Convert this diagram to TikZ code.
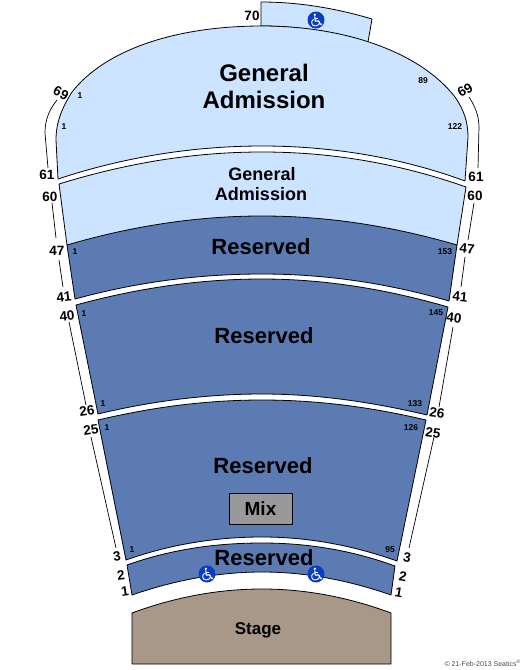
\documentclass[tikz,border=0pt]{standalone}
\usepackage{fontspec}
\setmainfont{Liberation Sans}
\definecolor{galight}{HTML}{CCE4FF}
\definecolor{resblue}{HTML}{5B7BB2}
\definecolor{stagebrown}{HTML}{A89888}
\definecolor{mixgray}{HTML}{999999}
\definecolor{wcblue}{HTML}{0A3CC8}
\tikzset{
 x=1pt,y=-1pt,
 seat/.style={draw=black,line width=0.8pt,line join=round},
 gasec/.style={seat,fill=galight},
 ressec/.style={seat,fill=resblue},
 sideline/.style={draw=black,line width=0.7pt},
 rowlbl/.style={font=\bfseries\fontsize{13.5}{13.5}\selectfont,inner sep=0pt},
 seatlbl/.style={font=\bfseries\fontsize{8.5}{8.5}\selectfont,inner sep=0pt},
 biglbl/.style={font=\bfseries\fontsize{24}{24}\selectfont,inner sep=0pt},
 midlbl/.style={font=\bfseries\fontsize{18}{18}\selectfont,inner sep=0pt},
 reslbl/.style={font=\bfseries\fontsize{22}{22}\selectfont,inner sep=0pt},
 wheelchair/.pic={
  \fill[wcblue] (0,0) circle (8.5);
  \fill[white] (-1.2,-5.2) circle (1.3);
  \draw[white,line width=1.2pt,line join=round] (-1.2,-3.5) -- (-0.8,1) -- (2.8,1) -- (4.4,4.6) -- (5.8,4);
  \draw[white,line width=0.9pt] (-1,-1.2) -- (2.4,-1.2);
  \draw[white,line width=0.9pt] (-2.4,-0.6) .. controls (-5.4,0.6) and (-5,5.9) .. (-0.8,5.9) .. controls (1.4,5.9) and (2.8,4.8) .. (3.2,3.4);
 }
}
\begin{document}
\begin{tikzpicture}
\useasboundingbox (0,0) rectangle (525,670);
% balcony 70
\path[gasec] (261,2) .. controls (298,2) and (335,8) .. (372,19) -- (368,42) .. controls (335,32) and (298,26) .. (261,26) -- cycle;
% GA upper
\path[gasec] (58,179) -- (56,140) .. controls (56,122) and (62,108) .. (72,92)
 .. controls (105,50) and (175,26) .. (262,26)
 .. controls (345,26) and (420,52) .. (455,97)
 .. controls (464,110) and (468,122) .. (468,137)
 -- (465,181) .. controls (400,157) and (330,146) .. (262,146) .. controls (194,146) and (124,157) .. (58,179) -- cycle;
% GA lower
\path[gasec] (59,184) .. controls (127,163) and (194,152) .. (262,152) .. controls (330,152) and (398,163) .. (466,187) -- (457,245) -- (67,245) -- cycle;
% reserved 1
\path[ressec] (67,245) .. controls (132,226) and (197,216) .. (262,216) .. controls (327,216) and (392,226) .. (457,245)
 -- (449,301) .. controls (387,283) and (325,274) .. (262,274) .. controls (199,274) and (137,282) .. (75,299) -- cycle;
% reserved 2
\path[ressec] (76,305) .. controls (138,288) and (200,279) .. (262,279) .. controls (324,279) and (386,289) .. (448,307)
 -- (427,415) .. controls (372,402) and (317,394) .. (262,394) .. controls (207,394) and (152,401) .. (98,414) -- cycle;
% reserved 3
\path[ressec] (98,420) .. controls (153,407) and (207,400) .. (262,400) .. controls (317,400) and (371,407) .. (426,420)
 -- (397,561) .. controls (352,545) and (307,537) .. (262,537) .. controls (217,537) and (171,544) .. (126,560) -- cycle;
% reserved 4
\path[ressec] (127,565) .. controls (172,549) and (217,543) .. (262,543) .. controls (307,543) and (351,550) .. (395,566)
 -- (391,595) .. controls (348,580) and (305,572) .. (262,572) .. controls (219,572) and (175,580) .. (132,595) -- cycle;
% stage
\path[seat,fill=stagebrown] (132,613) .. controls (175,597) and (219,589) .. (262,589) .. controls (305,589) and (348,597) .. (391,613) -- (391,664) -- (132,664) -- cycle;
% mix
\node[seat,fill=mixgray,minimum width=63pt,minimum height=31pt,inner sep=0pt,font=\bfseries\fontsize{19}{19}\selectfont] (mix) at (260.5,508.5) {Mix};
% side lines
\draw[sideline] (57,100) .. controls (49,110) and (45,120) .. (45,133) -- (48,168);
\draw[sideline] (52,203) -- (56,238);
\draw[sideline] (59,260) -- (63,287);
\draw[sideline] (69,322) -- (86,405);
\draw[sideline] (91,437) -- (116,548);
\draw[sideline] (469,97) .. controls (475,106) and (479,116) .. (479,127) -- (478,168);
\draw[sideline] (474,203) -- (468,240);
\draw[sideline] (465,257) -- (461,287);
\draw[sideline] (453,327) -- (439,407);
\draw[sideline] (434,437) -- (409,548);
% section text
\node[biglbl] (ga1a) at (264,73) {General};
\node[biglbl] (ga1b) at (264,100) {Admission};
\node[midlbl] (ga2a) at (262,174) {General};
\node[midlbl] (ga2b) at (261,194) {Admission};
\node[reslbl] (r1) at (261,247) {Reserved};
\node[reslbl] (r2) at (264,336) {Reserved};
\node[reslbl] (r3) at (263,466) {Reserved};
\node[reslbl] (r4) at (264,558) {Reserved};
\node[inner sep=0pt,font=\bfseries\fontsize{17}{17}\selectfont] (stage) at (258,630) {Stage};
% row labels left
\node[rowlbl] (l70) at (252,16) {70};
\node[rowlbl,rotate=-28] (l69) at (61,93) {69};
\node[rowlbl] (l61) at (47,175) {61};
\node[rowlbl] (l60) at (50,197) {60};
\node[rowlbl] (l47) at (57,251) {47};
\node[rowlbl,rotate=6] (l41) at (64,297) {41};
\node[rowlbl,rotate=6] (l40) at (67,316) {40};
\node[rowlbl,rotate=8] (l26) at (87,411) {26};
\node[rowlbl,rotate=8] (l25) at (91,430) {25};
\node[rowlbl,rotate=8] (l3) at (117,556) {3};
\node[rowlbl,rotate=8] (l2) at (121,575) {2};
\node[rowlbl,rotate=8] (l1) at (125,591) {1};
% row labels right
\node[rowlbl,rotate=30] (r69) at (465,90) {69};
\node[rowlbl] (r61) at (476,177) {61};
\node[rowlbl] (r60) at (475,196) {60};
\node[rowlbl,rotate=-6] (r47) at (467,249) {47};
\node[rowlbl,rotate=-6] (r41) at (460,297) {41};
\node[rowlbl,rotate=-8] (r40) at (454,318) {40};
\node[rowlbl,rotate=-8] (r26) at (437,413) {26};
\node[rowlbl,rotate=-8] (r25) at (433,433) {25};
\node[rowlbl,rotate=-10] (r3) at (407,558) {3};
\node[rowlbl,rotate=-10] (r2) at (403,577) {2};
\node[rowlbl,rotate=-10] (r1a) at (399,593) {1};
% seat labels
\node[seatlbl] (s1) at (80,96) {1};
\node[seatlbl] (s2) at (64,127) {1};
\node[seatlbl] (s3) at (423,81) {89};
\node[seatlbl] (s4) at (455,127) {122};
\node[seatlbl] (s5) at (75,252) {1};
\node[seatlbl] (s6) at (445,252) {153};
\node[seatlbl] (s7) at (84,314) {1};
\node[seatlbl] (s8) at (436,313) {145};
\node[seatlbl] (s9) at (103,404) {1};
\node[seatlbl] (s10) at (415,404) {133};
\node[seatlbl] (s11) at (107,428) {1};
\node[seatlbl] (s12) at (411,428) {126};
\node[seatlbl] (s13) at (132,550) {1};
\node[seatlbl] (s14) at (390,550) {95};
% wheelchairs
\pic at (316,20) {wheelchair};
\pic at (207,574) {wheelchair};
\pic at (316,574) {wheelchair};
% copyright
\node[inner sep=0pt,anchor=east,text=black!70,font=\fontsize{7}{7}\selectfont] (copy) at (521,663) {© 21-Feb-2013 Seatics\textsuperscript{®}};
\end{tikzpicture}
\end{document}
